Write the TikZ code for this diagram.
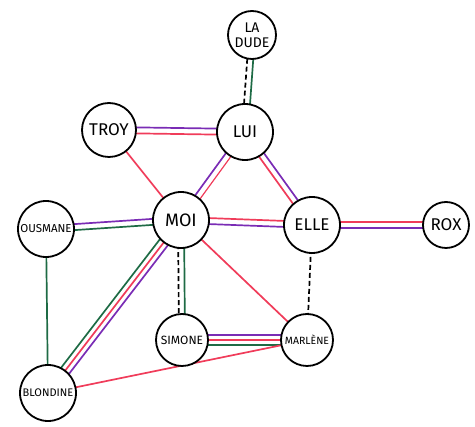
\documentclass[tikz,border=0pt]{standalone}
\usepackage{fontspec}
\setmainfont{Fira Sans}
\usetikzlibrary{calc,backgrounds}
\definecolor{cpur}{HTML}{7A2CB5}
\definecolor{cred}{HTML}{F03C5A}
\definecolor{cgrn}{HTML}{1E6B45}
\newcommand\pl[4]{\draw[#1] ($(#2.center)!#4!90:(#3.center)$) -- ($(#3.center)!#4!-90:(#2.center)$);}
\newcommand\fs[1]{\fontsize{#1}{#1}\selectfont}
\tikzset{
  person/.style={circle, draw=black, line width=1.8pt, fill=white, inner sep=0pt, minimum size=#1, align=center, font=\fs{17}},
  rel/.style={line width=1.7pt},
  purp/.style={rel, cpur},
  redl/.style={rel, cred},
  grn/.style={rel, cgrn},
  dsh/.style={rel, black, dash pattern=on 5pt off 3pt},
}
\begin{document}
\begin{tikzpicture}[x=1pt,y=-1pt]
\useasboundingbox (0,0) rectangle (475,427);
\node[person=48pt, font=\fontsize{14}{15}\selectfont] (dude) at (252,35) {LA\\DUDE};
\node[person=56pt] (lui) at (245,132) {LUI};
\node[person=54pt] (troy) at (109,130) {TROY};
\node[person=56pt, font=\fs{18}] (moi) at (181,220) {MOI};
\node[person=56pt, font=\fs{11.5}] (ousmane) at (46,229) {OUSMANE};
\node[person=56pt] (elle) at (312,225) {ELLE};
\node[person=46pt] (rox) at (446,225) {ROX};
\node[person=52pt, font=\fs{12}] (simone) at (182,340) {SIMONE};
\node[person=52pt, font=\fs{10.5}] (marlene) at (307,340) {MARLÈNE};
\node[person=56pt, font=\fs{11}] (blondine) at (48,393) {BLONDINE};
\begin{pgfonlayer}{background}
  \pl{dsh}{dude}{lui}{-3pt}
  \pl{grn}{dude}{lui}{3pt}
  \pl{purp}{troy}{lui}{3pt}
  \pl{redl}{troy}{lui}{-3pt}
  \pl{redl}{troy}{moi}{0pt}
  \pl{redl, line width=1.2pt}{lui}{moi}{3pt}
  \pl{purp}{lui}{moi}{-3pt}
  \pl{purp}{lui}{elle}{3pt}
  \pl{redl}{lui}{elle}{-3pt}
  \pl{purp}{ousmane}{moi}{3pt}
  \pl{grn}{ousmane}{moi}{-3pt}
  \pl{redl}{moi}{elle}{3pt}
  \pl{purp}{moi}{elle}{-3pt}
  \pl{redl}{elle}{rox}{3pt}
  \pl{purp}{elle}{rox}{-3pt}
  \pl{grn}{moi}{simone}{3pt}
  \pl{dsh}{moi}{simone}{-3pt}
  \pl{redl}{moi}{marlene}{0pt}
  \pl{dsh}{elle}{marlene}{0pt}
  \pl{purp}{simone}{marlene}{5pt}
  \pl{redl}{simone}{marlene}{0pt}
  \pl{grn}{simone}{marlene}{-5pt}
  \pl{grn}{ousmane}{blondine}{0pt}
  \pl{purp}{moi}{blondine}{5pt}
  \pl{redl}{moi}{blondine}{0pt}
  \pl{grn}{moi}{blondine}{-5pt}
  \pl{redl}{blondine}{marlene}{0pt}
\end{pgfonlayer}
\end{tikzpicture}
\end{document}
